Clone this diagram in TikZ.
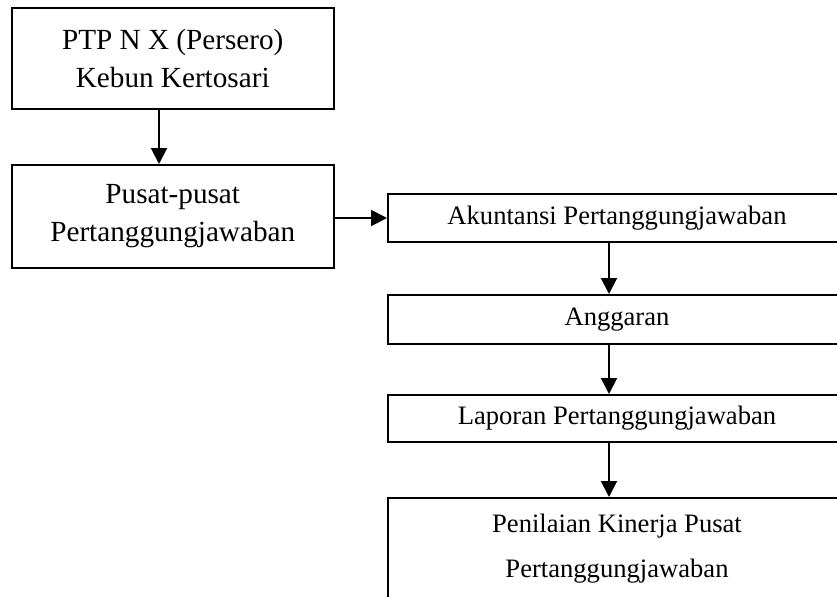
\documentclass[tikz,border=0pt]{standalone}
\usepackage{fontspec}
\setmainfont{Liberation Serif}
\usetikzlibrary{arrows.meta}
\begin{document}
\begin{tikzpicture}[x=0.5pt,y=-0.5pt,
  box/.style={draw,line width=1pt,inner sep=0pt,align=center},
  leftbox/.style={box,minimum width=161.25pt,font=\fontsize{14.6}{19}\selectfont},
  rightbox/.style={box,minimum width=229pt,font=\fontsize{13.3}{16}\selectfont},
  arr/.style={line width=1pt,-{Triangle[width=8pt,length=8pt]}}]
\fill[white] (0,0) rectangle (837,596);
\useasboundingbox (0,0) rectangle (837,596);
\clip (0,0) rectangle (837,596);
\node[leftbox,minimum height=50.75pt] (b1) at (172.75,58.25) {PTP N X (Persero)\\Kebun Kertosari};
\node[leftbox,minimum height=51.5pt] (b2) at (172.75,216.5) {Pusat-pusat\\Pertanggungjawaban};
\node[rightbox,minimum height=24pt] (b3) at (617,218) {Akuntansi Pertanggungjawaban};
\node[rightbox,minimum height=24.5pt] (b4) at (617,319.5) {Anggaran};
\node[rightbox,minimum height=23.5pt] (b5) at (617,418.5) {Laporan Pertanggungjawaban};
\node[box,minimum width=229pt,minimum height=81pt] (b6) at (617,579) {};
\node[align=center,inner sep=0pt,font=\fontsize{13.3}{22.5}\selectfont,anchor=north] (t6) at (617,514) {Penilaian Kinerja Pusat\\Pertanggungjawaban};
\coordinate (ax) at (609,0);
\coordinate (lx) at (159,0);
\draw[arr] (b1.south -| lx) -- (b2.north -| lx);
\draw[arr] (b2.east |- b3.west) -- (b3.west);
\draw[arr] (b3.south -| ax) -- (b4.north -| ax);
\draw[arr] (b4.south -| ax) -- (b5.north -| ax);
\draw[arr] (b5.south -| ax) -- (b6.north -| ax);
\end{tikzpicture}
\end{document}
